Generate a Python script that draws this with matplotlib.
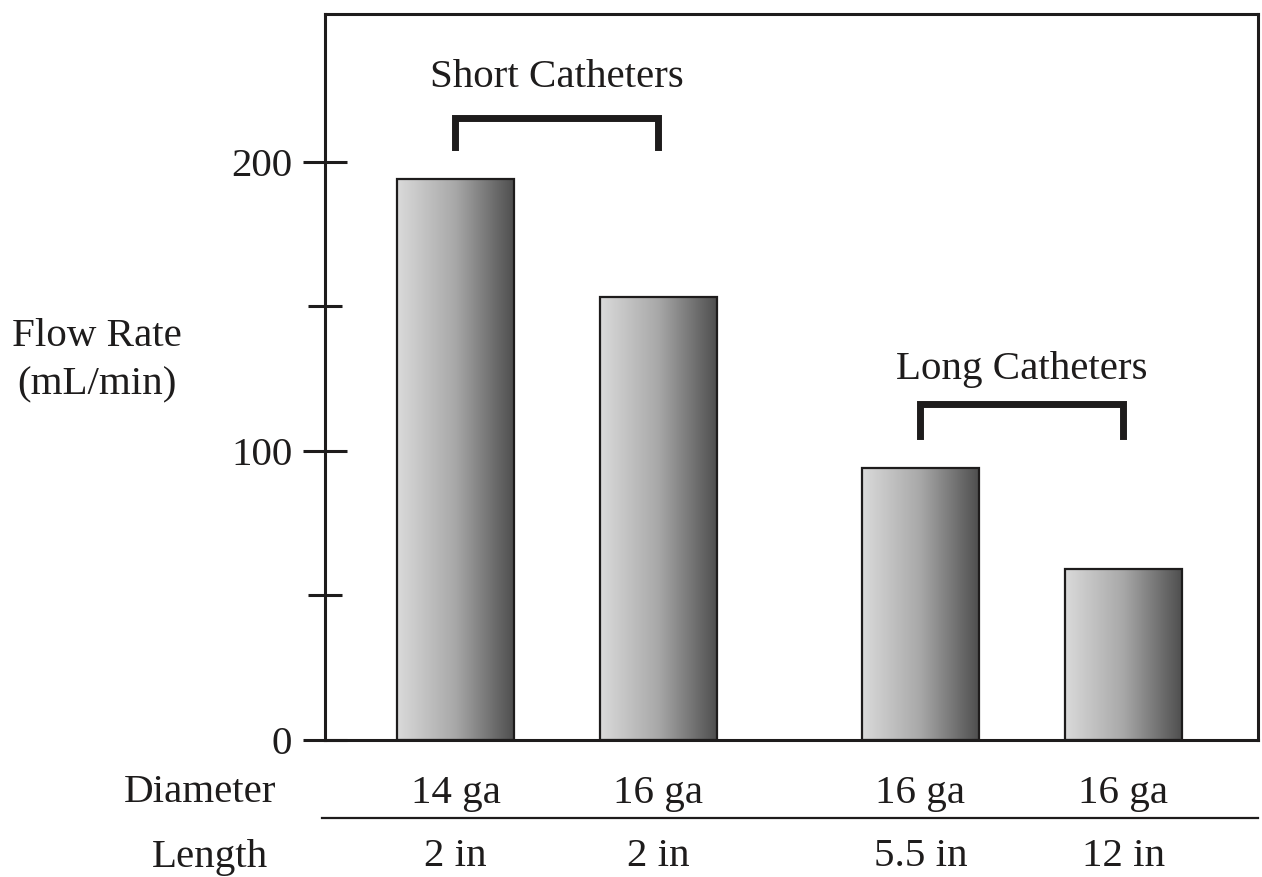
import matplotlib.pyplot as plt
import numpy as np
from matplotlib.colors import LinearSegmentedColormap
from matplotlib.transforms import blended_transform_factory

# Catheter flow data
diameters = ['14 ga', '16 ga', '16 ga', '16 ga']
lengths = ['2 in', '2 in', '5.5 in', '12 in']
flow_rates = [194, 153, 94, 59]
groups = [('Short Catheters', 0, 1), ('Long Catheters', 2, 3)]

plt.rcParams['font.family'] = ['Liberation Serif', 'DejaVu Serif']
FS = 29.5
INK = '#1e1c1c'

fig = plt.figure(figsize=(12.62, 8.77), dpi=100)
ax = fig.add_axes([0.2575, 0.1562, 0.7393, 0.8278])

xpos = np.array([0, 1, 2.29, 3.29])
width = 0.576
grad = LinearSegmentedColormap.from_list('steel', ['#dadada', '#a8a8a8', '#4f4f4f'])
ramp = np.linspace(0, 1, 256).reshape(1, -1)

bars = ax.bar(xpos, flow_rates, width=width, facecolor='none',
              edgecolor=INK, linewidth=1.6, zorder=3)
for bar in bars:
    x0, y0 = bar.get_x(), bar.get_y()
    w, h = bar.get_width(), bar.get_height()
    im = ax.imshow(ramp, cmap=grad, aspect='auto', extent=[x0, x0 + w, y0, y0 + h],
                   interpolation='bicubic', zorder=2)
    im.set_clip_path(bar)

ax.set_xlim(-0.643, 3.953)
ax.set_ylim(0, 251)

for side in ['left', 'bottom', 'right', 'top']:
    ax.spines[side].set_linewidth(2.2)
    ax.spines[side].set_color(INK)

ax.set_xticks([])
ax.set_yticks([0, 100, 200])
ax.set_yticks([50, 150], minor=True)
ax.tick_params(axis='y', which='major', direction='inout', length=31, width=2.2,
               labelsize=FS, pad=8, color=INK, labelcolor=INK)
ax.tick_params(axis='y', which='minor', direction='inout', length=24, width=2.2,
               color=INK)

# Group brackets and captions
bracket_y = {'Short Catheters': (205, 215, 229), 'Long Catheters': (105, 116, 128)}
for name, i, j in groups:
    y_low, y_top, y_text = bracket_y[name]
    ax.plot([xpos[i], xpos[i], xpos[j], xpos[j]], [y_low, y_top, y_top, y_low],
            color=INK, linewidth=5, solid_joinstyle='miter', zorder=4)
    ax.text((xpos[i] + xpos[j]) / 2, y_text, name, ha='center', va='center',
            fontsize=FS, color=INK)

# Rows beneath the axis
trans = blended_transform_factory(ax.transData, fig.transFigure)
for x, d, l in zip(xpos, diameters, lengths):
    ax.text(x, 1 - 793 / 877, d, transform=trans, ha='center', va='center',
            fontsize=FS, color=INK)
    ax.text(x, 1 - 857 / 877, l, transform=trans, ha='center', va='center',
            fontsize=FS, color=INK)
fig.text(200 / 1262, 1 - 793 / 877, 'Diameter', ha='center', va='center',
         fontsize=FS, color=INK)
fig.text(210 / 1262, 1 - 857 / 877, 'Length', ha='center', va='center',
         fontsize=FS, color=INK)
fig.add_artist(plt.Line2D([322 / 1262, 1258 / 1262], [1 - 818 / 877, 1 - 818 / 877],
                          color=INK, linewidth=1.6))

fig.text(97 / 1262, 1 - 361 / 877, 'Flow Rate\n(mL/min)', ha='center', va='center',
         fontsize=FS, color=INK, linespacing=1.4)

fig.savefig('out.png', dpi=100)
